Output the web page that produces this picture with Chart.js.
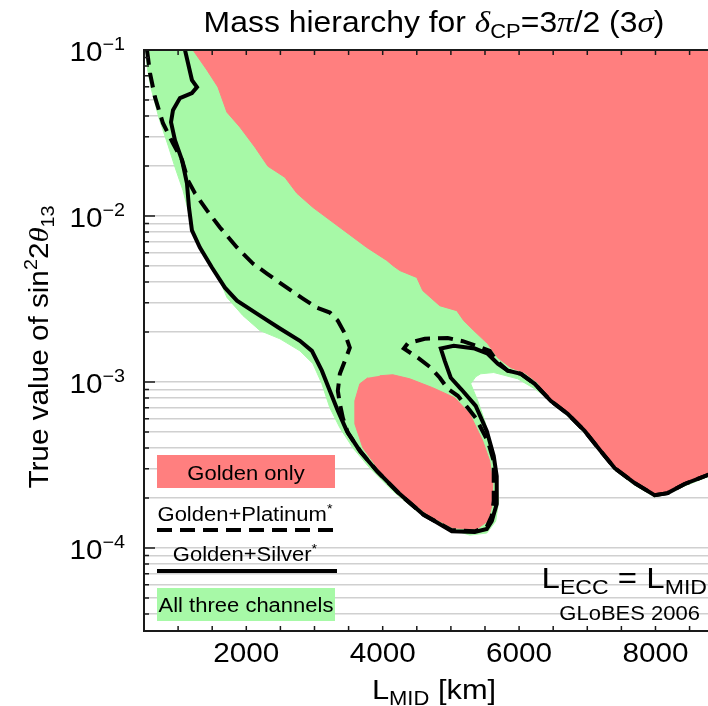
<!DOCTYPE html>
<html>
<head>
<meta charset="utf-8">
<script src="https://cdn.jsdelivr.net/npm/chart.js@4.4.0/dist/chart.umd.min.js"></script>
<style>
  html, body { margin: 0; padding: 0; background: #fff; }
  #wrap { width: 708px; height: 706px; }
</style>
</head>
<body>
<div id="wrap"><canvas id="c" width="708" height="706"></canvas></div>
<script>
// L_MID in km, true sin^2 2theta13 values
const allThreeX = [529,544,603,720,852,954,1071,1174,1277,1423,1614,1716,1951,2200,2493,2786,2976,3108,3225,3372,3562,3811,4148,4500,4940,5277,5526,5657,5701,5672,5614,5496,5394,5291,5364,5438,5628,5980,6229,6463,6712,6961,7196,7401,7694,7987,8178,8427,8764,9000,9000];
const allThreeY = [0.1,0.08,0.059,0.0388,0.0267,0.0197,0.01428,0.00985,0.00712,0.0054,0.00408,0.00323,0.00251,0.00204,0.00182,0.00154,0.00129,0.000975,0.000699,0.000529,0.000401,0.000303,0.00022,0.000167,0.000132,0.0001195,0.000123,0.000145,0.000192,0.000271,0.000384,0.000583,0.00077,0.000975,0.001075,0.00112,0.00114,0.001045,0.00091,0.00077,0.000625,0.000493,0.000374,0.000295,0.000239,0.000203,0.000211,0.000236,0.000268,0.00028,0.1];

const goldenX = [1218,1423,1584,1716,1907,2126,2317,2566,2742,2976,3372,3767,4060,4148,4251,4500,4588,4837,5086,5189,5335,5540,5687,5877,6082,6273,6463,6712,6961,7196,7401,7694,7987,8178,8427,8764,9000,9000];
const goldenY = [0.1,0.0757,0.0598,0.0422,0.0343,0.026,0.01994,0.0171,0.0137,0.01127,0.00853,0.00646,0.0054,0.00503,0.00469,0.00426,0.00355,0.00288,0.00269,0.00234,0.00204,0.0017,0.0014,0.00122,0.001137,0.00099,0.00077,0.000643,0.000507,0.000384,0.000303,0.000246,0.000208,0.000214,0.000243,0.000275,0.00029,0.1];

const goldenIslandX = [3958,4148,4397,4734,5057,5277,5467,5570,5614,5599,5540,5379,5028,4647,4295,3958,3709,3592,3592,3665,3782];
const goldenIslandY = [0.00109,0.001105,0.001045,0.000923,0.000803,0.000643,0.000441,0.000334,0.000243,0.000179,0.000145,0.00013,0.000132,0.00016,0.000211,0.000291,0.000401,0.000559,0.00077,0.000975,0.00106];

const silverX = [1101,1145,1203,1277,1203,1027,925,896,954,1057,1130,1159,1203,1320,1496,1687,1863,2200,2493,2786,2962,3108,3225,3342,3474,3665,3914,4251,4588,5013,5350,5526,5599,5672,5672,5628,5526,5364,5159,4998,4910,4852,5042,5350,5540,5687,5833,6027,6229,6463,6712,6961,7196,7401,7694,7987,8178,8427,8764,9086];
const silverY = [0.1,0.0835,0.0659,0.0598,0.055,0.0513,0.0434,0.0367,0.0286,0.0217,0.01574,0.01127,0.00818,0.00646,0.00489,0.0037,0.00309,0.00251,0.0021,0.00177,0.00154,0.00117,0.000885,0.00067,0.000507,0.000384,0.000291,0.000211,0.00016,0.000126,0.000125,0.00013,0.000145,0.000184,0.000271,0.000358,0.000507,0.000718,0.000897,0.00106,0.00134,0.00159,0.00165,0.00159,0.00148,0.00129,0.00117,0.00112,0.000975,0.00077,0.000643,0.000507,0.000384,0.000303,0.000246,0.000208,0.000214,0.000243,0.000275,0.000308];

const platinumX = [544,588,661,778,925,1057,1145,1247,1423,1614,1863,2097,2302,2595,2830,3035,3225,3342,3445,3518,3445,3372,3342,3372,3416,3489,3680,3929,4265,4603,5013,5350,5526,5599,5628,5628,5628,5540,5364,5247,5101,4954,4837,4705,4515,4310,4368,4617,4954,5174,5379,5570,5672,5833,6027,6229,6463,6712,6961,7196,7401,7694,7987,8178,8427,8764,9086];
const platinumY = [0.1,0.0726,0.052,0.0362,0.0274,0.0217,0.0164,0.0137,0.0108,0.00853,0.00646,0.00517,0.0045,0.0037,0.00318,0.0028,0.00262,0.00234,0.00196,0.00161,0.00134,0.00112,0.000885,0.000739,0.000608,0.000493,0.000379,0.000287,0.000208,0.000158,0.000128,0.000126,0.000134,0.000156,0.000192,0.000271,0.000334,0.000441,0.000608,0.000699,0.000826,0.00091,0.00106,0.00122,0.0014,0.00159,0.00171,0.00182,0.00184,0.00176,0.00165,0.00154,0.00134,0.00117,0.00112,0.000975,0.00077,0.000643,0.000507,0.000384,0.000303,0.000246,0.000208,0.000214,0.000243,0.000275,0.000308];

// axes
const xMin = 500, xMax = 8770;
const yMin = 3.16e-5, yMax = 0.1;
const xTickValues = [1000,1500,2000,2500,3000,3500,4000,4500,5000,5500,6000,6500,7000,7500,8000,8500];
const xTickLabels = ['2000','4000','6000','8000'];
const yTickValues = [4e-5,5e-5,6e-5,7e-5,8e-5,9e-5,1e-4,2e-4,3e-4,4e-4,5e-4,6e-4,7e-4,8e-4,9e-4,1e-3,2e-3,3e-3,4e-3,5e-3,6e-3,7e-3,8e-3,9e-3,1e-2,2e-2,3e-2,4e-2,5e-2,6e-2,7e-2,8e-2,9e-2,1e-1];
const yTickLabels = ['−4','−3','−2','−1'];
const yLabelValues = [1e-4,1e-3,1e-2,1e-1];

const RED = '#ff7f7f';
const GREEN = '#a7f9a7';
const SANS = "'Liberation Sans', Arial, sans-serif";
const SERIF = "'Liberation Serif', 'Times New Roman', serif";
const F = (s, st) => (st || '') + ' ' + s + 'px ' + SANS;
const G = (s) => 'italic ' + s + 'px ' + SERIF;

const zip = (xs, ys) => xs.map((x, i) => ({x: x, y: ys[i]}));

function rich(ctx, parts, x, y, align) {
  const sx = 1.1;
  let w = 0;
  for (const p of parts) { ctx.font = p[1]; w += ctx.measureText(p[0]).width; }
  const x0 = align === 'center' ? x - w * sx / 2 : align === 'right' ? x - w * sx : x;
  ctx.save();
  ctx.translate(x0, y);
  ctx.scale(sx, 1);
  ctx.textAlign = 'left';
  ctx.textBaseline = 'alphabetic';
  ctx.fillStyle = '#000';
  let cx = 0;
  for (const p of parts) {
    ctx.font = p[1];
    ctx.fillText(p[0], cx, p[2] || 0);
    cx += ctx.measureText(p[0]).width;
  }
  ctx.restore();
}

const decor = {
  id: 'decor',
  afterDraw(chart) {
    const ctx = chart.ctx;
    const a = chart.chartArea;
    const xs = chart.scales.x, ys = chart.scales.y;
    ctx.save();
    // frame
    ctx.strokeStyle = '#1a1a1a';
    ctx.lineWidth = 2;
    ctx.beginPath();
    ctx.moveTo(a.right, a.top); ctx.lineTo(a.left, a.top);
    ctx.lineTo(a.left, a.bottom); ctx.lineTo(a.right, a.bottom);
    ctx.stroke();
    // inward ticks
    ctx.lineWidth = 1.5;
    ctx.beginPath();
    xTickValues.forEach(v => {
      const px = xs.getPixelForValue(v);
      ctx.moveTo(px, a.bottom); ctx.lineTo(px, a.bottom - 5);
      ctx.moveTo(px, a.top); ctx.lineTo(px, a.top + 5);
    });
    yTickValues.forEach(v => {
      const py = ys.getPixelForValue(v);
      const major = yLabelValues.indexOf(v) >= 0;
      ctx.moveTo(a.left, py); ctx.lineTo(a.left + (major ? 11 : 5), py);
    });
    ctx.stroke();
    // tick labels
    xTickLabels.forEach(t => {
      rich(ctx, [[t, F(27)]], xs.getPixelForValue(Number(t)), 662, 'center');
    });
    yLabelValues.forEach((v, i) => {
      const py = ys.getPixelForValue(v);
      rich(ctx, [['10', F(27)], [yTickLabels[i], F(18), -11]], 125, py + 11, 'right');
    });
    // titles
    rich(ctx, [['Mass hierarchy for ', F(29)], ['δ', G(30)], ['CP', F(20), 6], ['=3', F(29)], ['π', G(30)], ['/2 (3', F(29)], ['σ', G(30)], [')', F(29)]], 434, 32, 'center');
    rich(ctx, [['L', F(28)], ['MID', F(20), 6], [' [km]', F(28)]], 434, 699, 'center');
    ctx.save();
    ctx.translate(48, 347);
    ctx.rotate(-Math.PI / 2);
    rich(ctx, [['True value of sin', F(27)], ['2', F(18), -11], ['2', F(27)], ['θ', G(28)], ['13', F(18), 6]], 0, 0, 'center');
    ctx.restore();
    // annotations
    rich(ctx, [['L', F(30)], ['ECC', F(21), 6], [' = ', F(30)], ['L', F(30)], ['MID', F(21), 6]], 707, 588, 'right');
    rich(ctx, [['GLoBES 2006', F(20)]], 700, 620, 'right');
    // legend
    ctx.fillStyle = RED;
    ctx.fillRect(157, 455, 178, 33);
    rich(ctx, [['Golden only', F(20)]], 246, 480, 'center');
    rich(ctx, [['Golden+Platinum', F(20)], ['*', F(13), -8]], 245, 521, 'center');
    ctx.strokeStyle = '#000';
    ctx.lineWidth = 4;
    ctx.setLineDash([15, 8]);
    ctx.beginPath(); ctx.moveTo(157, 530); ctx.lineTo(337, 530); ctx.stroke();
    ctx.setLineDash([]);
    rich(ctx, [['Golden+Silver', F(20)], ['*', F(13), -8]], 245, 561, 'center');
    ctx.beginPath(); ctx.moveTo(157, 571); ctx.lineTo(337, 571); ctx.stroke();
    ctx.fillStyle = GREEN;
    ctx.fillRect(157, 588, 178, 33);
    rich(ctx, [['All three channels', F(20)]], 246, 612, 'center');
    ctx.restore();
  }
};

new Chart(document.getElementById('c'), {
  type: 'scatter',
  data: {
    datasets: [
      { label: 'Golden+Platinum', data: zip(platinumX, platinumY), showLine: true, fill: false,
        borderColor: '#000', borderWidth: 4, borderDash: [15, 8], pointRadius: 0, tension: 0 },
      { label: 'Golden+Silver', data: zip(silverX, silverY), showLine: true, fill: false,
        borderColor: '#000', borderWidth: 4, pointRadius: 0, tension: 0 },
      { label: 'Golden only', data: zip(goldenX, goldenY), showLine: true, fill: 'shape',
        backgroundColor: RED, borderColor: RED, borderWidth: 1, pointRadius: 0, tension: 0 },
      { label: 'Golden only (island)', data: zip(goldenIslandX, goldenIslandY), showLine: true, fill: 'shape',
        backgroundColor: RED, borderColor: RED, borderWidth: 1, pointRadius: 0, tension: 0 },
      { label: 'All three channels', data: zip(allThreeX, allThreeY), showLine: true, fill: 'shape',
        backgroundColor: GREEN, borderColor: GREEN, borderWidth: 1, pointRadius: 0, tension: 0 }
    ]
  },
  options: {
    responsive: false,
    animation: false,
    layout: { padding: { left: 144, top: 50, right: 0, bottom: 75 } },
    plugins: { legend: { display: false }, tooltip: { enabled: false } },
    scales: {
      x: {
        type: 'linear', min: xMin, max: xMax,
        ticks: { display: false },
        grid: { display: false, drawTicks: false },
        border: { display: false }
      },
      y: {
        type: 'logarithmic', min: yMin, max: yMax,
        afterBuildTicks: s => { s.ticks = yTickValues.map(v => ({ value: v })); },
        ticks: { display: false },
        grid: { color: '#d0d0d0', lineWidth: 1.5, drawTicks: false },
        border: { display: false }
      }
    }
  },
  plugins: [decor]
});
</script>
</body>
</html>
